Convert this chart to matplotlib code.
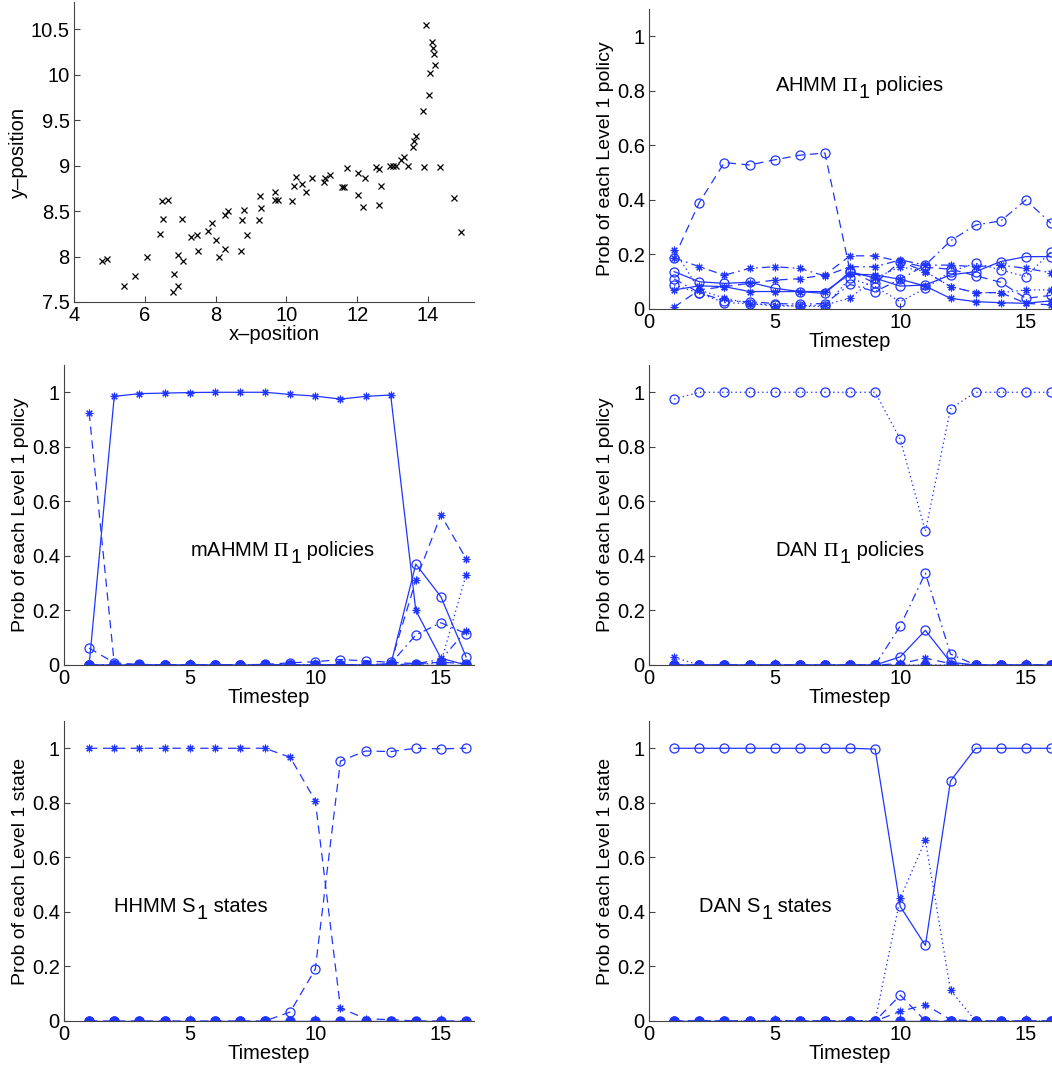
import numpy as np
import matplotlib
matplotlib.use('Agg')
import matplotlib.pyplot as plt

plt.rcParams['font.family'] = ['Liberation Sans', 'DejaVu Sans']
plt.rcParams['mathtext.fontset'] = 'stix'
plt.rcParams['font.size'] = 14
plt.rcParams['lines.scale_dashes'] = False
plt.rcParams['lines.dashed_pattern'] = [6.0, 4.0]
plt.rcParams['lines.dashdot_pattern'] = [6.0, 3.0, 1.2, 3.0]
plt.rcParams['lines.dotted_pattern'] = [1.0, 2.2]

# ---- scatter data (top left) ----
x_pos = [4.78, 4.92, 5.41, 5.71, 6.05, 6.43, 6.48, 6.52, 6.65, 6.81, 6.82, 6.94, 6.95,
         7.06, 7.08, 7.30, 7.48, 7.51, 7.78, 7.89, 8.00, 8.11, 8.26, 8.26, 8.35, 8.73,
         8.75, 8.81, 8.88, 9.23, 9.25, 9.27, 9.69, 9.69, 9.77, 10.16, 10.21, 10.26,
         10.43, 10.56, 10.73, 11.05, 11.09, 11.22, 11.56, 11.64, 11.70, 12.01, 12.01,
         12.17, 12.21, 12.52, 12.62, 12.62, 12.67, 12.94, 13.00, 13.10, 13.24, 13.32,
         13.44, 13.58, 13.60, 13.67, 13.86, 13.90, 13.95, 14.02, 14.05, 14.10, 14.15,
         14.17, 14.19, 14.35, 14.73, 14.94]
y_pos = [7.95, 7.97, 7.68, 7.79, 8.00, 8.25, 8.61, 8.41, 8.62, 7.61, 7.81, 7.68, 8.02,
         8.41, 7.95, 8.21, 8.24, 8.06, 8.28, 8.37, 8.18, 7.99, 8.46, 8.08, 8.50, 8.06,
         8.40, 8.51, 8.24, 8.40, 8.67, 8.53, 8.71, 8.62, 8.62, 8.61, 8.78, 8.87,
         8.80, 8.71, 8.86, 8.82, 8.86, 8.90, 8.76, 8.77, 8.97, 8.92, 8.68,
         8.55, 8.86, 8.99, 8.96, 8.57, 8.78, 9.00, 9.00, 9.00, 9.06, 9.09,
         9.00, 9.20, 9.27, 9.33, 9.60, 8.99, 10.55, 9.78, 10.02, 10.36, 10.29,
         10.23, 10.11, 8.99, 8.64, 8.27]

t = np.arange(1, 17)
z16 = [0.0] * 16

# ---- AHMM Pi_1 policies (top right) ----
ahmm = [
    ('--', 'o', [0.188, 0.39, 0.537, 0.528, 0.547, 0.564, 0.572, 0.14, 0.094, 0.174,
                 0.153, 0.146, 0.122, 0.098, 0.039, 0.05]),
    ('-.', 'o', [0.11, 0.06, 0.03, 0.027, 0.02, 0.018, 0.02, 0.09, 0.064, 0.109,
                 0.161, 0.25, 0.308, 0.323, 0.40, 0.314]),
    ('-.', '*', [0.188, 0.155, 0.124, 0.149, 0.155, 0.149, 0.121, 0.155, 0.155, 0.18,
                 0.161, 0.161, 0.155, 0.161, 0.149, 0.133]),
    ('--', '*', [0.007, 0.07, 0.082, 0.094, 0.106, 0.111, 0.125, 0.195, 0.195, 0.174,
                 0.137, 0.082, 0.06, 0.06, 0.021, 0.015]),
    ('-', 'o', [0.137, 0.10, 0.094, 0.098, 0.076, 0.064, 0.057, 0.137, 0.113, 0.084,
                0.088, 0.125, 0.137, 0.174, 0.192, 0.192]),
    ('-', '*', [0.07, 0.085, 0.082, 0.064, 0.064, 0.064, 0.064, 0.128, 0.125, 0.109,
                0.084, 0.039, 0.027, 0.023, 0.021, 0.03]),
    (':', 'o', [0.088, 0.058, 0.023, 0.02, 0.015, 0.01, 0.01, 0.113, 0.082, 0.027,
                0.076, 0.137, 0.168, 0.143, 0.119, 0.21]),
    (':', '*', [0.217, 0.07, 0.04, 0.02, 0.011, 0.011, 0.015, 0.04, 0.113, 0.155,
                0.137, 0.082, 0.06, 0.06, 0.07, 0.07]),
]

# ---- mAHMM Pi_1 policies (middle left) ----
mahmm = [
    ('-', '.', z16),
    ('-', '*', [0.0, 0.985, 0.995, 0.997, 0.999, 1.0, 1.0, 1.0, 0.992, 0.986, 0.975,
                0.985, 0.99, 0.20, 0.025, 0.0]),
    ('--', '*', [0.925, 0.005, 0, 0, 0, 0, 0, 0, 0, 0, 0, 0, 0.005, 0.31, 0.55, 0.39]),
    ('-', 'o', [0, 0, 0, 0, 0, 0, 0, 0, 0, 0, 0, 0, 0, 0.37, 0.25, 0.03]),
    ('--', 'o', [0.062, 0.008, 0.002, 0.001, 0.001, 0.001, 0.001, 0.002, 0.008, 0.012,
                 0.02, 0.015, 0.01, 0.005, 0.01, 0.005]),
    ('-.', 'o', [0, 0, 0, 0, 0, 0, 0, 0, 0, 0, 0, 0, 0.005, 0.11, 0.155, 0.115]),
    (':', '*', [0, 0, 0, 0, 0, 0, 0, 0, 0, 0, 0, 0, 0, 0, 0.01, 0.33]),
    ('-.', '*', [0, 0, 0, 0, 0, 0, 0, 0, 0, 0, 0, 0, 0, 0.005, 0.02, 0.125]),
]

# ---- DAN Pi_1 policies (middle right) ----
dan_pi = [
    ('-', '.', z16),
    (':', 'o', [0.975, 1, 1, 1, 1, 1, 1, 1, 1, 0.828, 0.49, 0.94, 1, 1, 1, 1]),
    ('-.', 'o', [0, 0, 0, 0, 0, 0, 0, 0, 0, 0.143, 0.337, 0.04, 0, 0, 0, 0]),
    ('-', 'o', [0, 0, 0, 0, 0, 0, 0, 0, 0, 0.03, 0.127, 0.01, 0, 0, 0, 0]),
    (':', '*', [0.028, 0, 0, 0, 0, 0, 0, 0, 0, 0, 0, 0, 0, 0, 0, 0]),
    ('--', '*', [0, 0, 0, 0, 0, 0, 0, 0, 0, 0.005, 0.025, 0.005, 0, 0, 0, 0]),
]

# ---- HHMM S_1 states (bottom left) ----
hhmm = [
    ('-', '.', z16),
    ('--', '*', [1, 1, 1, 1, 1, 1, 1, 1, 0.967, 0.808, 0.048, 0.008, 0.005, 0, 0, 0]),
    ('--', 'o', [0, 0, 0, 0, 0, 0, 0, 0, 0.033, 0.19, 0.953, 0.99, 0.988, 1.0, 0.998, 1.0]),
]

# ---- DAN S_1 states (bottom right) ----
dan_s = [
    ('-', '.', z16),
    ('-', 'o', [1, 1, 1, 1, 1, 1, 1, 1, 0.997, 0.42, 0.277, 0.88, 1, 1, 1, 1]),
    (':', '*', [0, 0, 0, 0, 0, 0, 0, 0, 0, 0.45, 0.663, 0.113, 0, 0, 0, 0]),
    ('--', 'o', [0, 0, 0, 0, 0, 0, 0, 0, 0, 0.095, 0.0, 0.0, 0, 0, 0, 0]),
    ('--', '*', [0, 0, 0, 0, 0, 0, 0, 0, 0, 0.035, 0.06, 0.005, 0, 0, 0, 0]),
]

blue = '#1f35ff'
W, H = 1052, 1067
fig = plt.figure(figsize=(W / 100, H / 100), dpi=100)


def style_axes(ax):
    ax.spines['top'].set_visible(False)
    ax.spines['right'].set_visible(False)
    ax.spines['left'].set_color('#444444')
    ax.spines['bottom'].set_color('#444444')
    ax.tick_params(direction='in', length=4, width=0.8, pad=3, labelsize=14.5,
                   colors='#444444', labelcolor='black')


def add_note(ax, x, y, head, sym, tail):
    # MATLAB-style label with a dropped subscript "1"
    fs = 14.5
    txt = ax.text(x, y, head + sym, fontsize=fs, va='bottom', ha='left')
    sub = ax.annotate('1', xycoords=txt, xy=(1, 0), xytext=(0.5, -5),
                      textcoords='offset points', fontsize=fs, va='bottom', ha='left')
    ax.annotate(tail, xycoords=sub, xy=(1, 0), xytext=(0, 5),
                textcoords='offset points', fontsize=fs, va='bottom', ha='left')


def prob_panel(rect, series, note, ylabel, xmax):
    ax = fig.add_axes(rect)
    for ls, mk, vals in series:
        if mk == '.':
            ax.plot(t, vals, linestyle=ls, color=blue, lw=1.0, marker='o',
                    markersize=6.5, markerfacecolor=blue, markeredgecolor=blue)
        elif mk == '*':
            ax.plot(t, vals, linestyle=ls, color=blue, lw=0.9, marker=(8, 2, 0),
                    markersize=5.5, markeredgewidth=0.8, markeredgecolor=blue)
        else:
            ax.plot(t, vals, linestyle=ls, color=blue, lw=0.9, marker='o',
                    markersize=6.5, markerfacecolor='none', markeredgecolor=blue,
                    markeredgewidth=0.9)
    ax.set_xlim(0, xmax)
    ax.set_ylim(0, 1.1)
    ax.set_xticks([0, 5, 10, 15])
    ax.set_yticks([0, 0.2, 0.4, 0.6, 0.8, 1.0])
    ax.set_yticklabels(['0', '0.2', '0.4', '0.6', '0.8', '1'])
    ax.set_xlabel('Timestep', fontsize=14.5, labelpad=0)
    ax.set_ylabel(ylabel, fontsize=14, labelpad=2)
    add_note(ax, *note)
    style_axes(ax)
    return ax


hgt = 300 / H
# top left scatter
ax0 = fig.add_axes([74 / W, 1 - 302 / H, 400 / W, hgt])
ax0.plot(x_pos, y_pos, linestyle='none', marker='x', color='black',
         markersize=4, markeredgewidth=0.9)
ax0.set_xlim(4, 15.3)
ax0.set_ylim(7.5, 10.8)
ax0.set_xticks([4, 6, 8, 10, 12, 14])
ax0.set_yticks([7.5, 8, 8.5, 9, 9.5, 10, 10.5])
ax0.set_yticklabels(['7.5', '8', '8.5', '9', '9.5', '10', '10.5'])
ax0.set_xlabel('x\u2013position', fontsize=14.5, labelpad=0)
ax0.set_ylabel('y\u2013position', fontsize=14.5, labelpad=2)
style_axes(ax0)

pol = 'Prob of each Level 1 policy'
st = 'Prob of each Level 1 state'
left_l, wid_l = 64 / W, 409.6 / W
left_r, wid_r = 649 / W, 402 / W
PI = r'$\Pi$'

prob_panel([left_r, 1 - 309 / H, wid_r, hgt], ahmm,
           (5.0, 0.785, 'AHMM ', PI, ' policies'), pol, 16)
prob_panel([left_l, 1 - 665 / H, wid_l, hgt], mahmm,
           (5.0, 0.385, 'mAHMM ', PI, ' policies'), pol, 16.3)
prob_panel([left_r, 1 - 665 / H, wid_r, hgt], dan_pi,
           (5.0, 0.385, 'DAN ', PI, ' policies'), pol, 16)
prob_panel([left_l, 1 - 1021 / H, wid_l, hgt], hhmm,
           (2.0, 0.385, 'HHMM ', 'S', ' states'), st, 16.3)
prob_panel([left_r, 1 - 1021 / H, wid_r, hgt], dan_s,
           (2.0, 0.385, 'DAN ', 'S', ' states'), st, 16)

fig.savefig('out.png', dpi=100)
